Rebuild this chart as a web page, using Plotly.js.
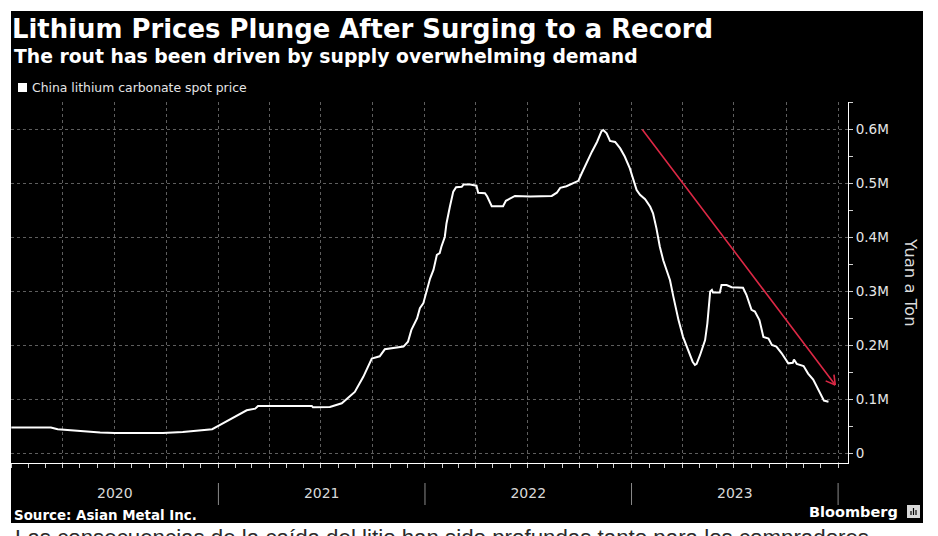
<!DOCTYPE html>
<html>
<head>
<meta charset="utf-8">
<script src="https://cdn.plot.ly/plotly-3.0.1.min.js"></script>
<style>html,body{margin:0;padding:0;background:#fff;}#chart{width:938px;height:536px;}</style>
</head>
<body>
<div id="chart"></div>
<script>
// ---- Data ----
var dates = [
 '2020-01-01','2020-03-11','2020-03-23','2020-04-08','2020-05-05','2020-05-19','2020-06-06','2020-07-02',
 '2020-09-25','2020-10-30','2020-11-29','2020-12-21','2021-01-04','2021-01-21','2021-02-08','2021-02-20',
 '2021-03-07','2021-03-12','2021-06-15','2021-06-17','2021-07-17','2021-08-07','2021-08-30','2021-09-14',
 '2021-09-29','2021-10-13','2021-10-22','2021-11-03','2021-11-24','2021-12-02','2021-12-08','2021-12-18',
 '2021-12-23','2021-12-29','2022-01-04','2022-01-10','2022-01-16','2022-01-22','2022-01-27','2022-01-30',
 '2022-02-05','2022-02-08','2022-02-14','2022-02-20','2022-02-25','2022-03-07','2022-03-10','2022-03-22',
 '2022-04-02','2022-04-05','2022-04-17','2022-04-21','2022-04-29','2022-05-19','2022-05-24','2022-06-03',
 '2022-06-09','2022-07-06','2022-08-13','2022-08-22','2022-08-28','2022-09-08','2022-09-29','2022-10-05',
 '2022-10-14','2022-10-23','2022-11-01','2022-11-09','2022-11-12','2022-11-18','2022-11-24','2022-12-03',
 '2022-12-12','2022-12-20','2022-12-29','2023-01-04','2023-01-10','2023-01-16','2023-01-25','2023-02-03',
 '2023-02-08','2023-02-14','2023-02-20','2023-02-26','2023-03-04','2023-03-10','2023-03-16','2023-03-25',
 '2023-04-02','2023-04-11','2023-04-19','2023-04-23','2023-04-26','2023-05-02','2023-05-11','2023-05-15',
 '2023-05-20','2023-05-23','2023-05-25','2023-06-06','2023-06-09','2023-06-18','2023-06-27','2023-07-17',
 '2023-07-23','2023-08-01','2023-08-07','2023-08-15','2023-08-22','2023-08-31','2023-09-06','2023-09-14',
 '2023-09-23','2023-10-05','2023-10-13','2023-10-15','2023-10-20','2023-11-01','2023-11-09','2023-11-18',
 '2023-11-27','2023-12-03','2023-12-07','2023-12-15'
];
var prices = [
 48000,48000,44800,43500,42000,40000,39000,38000,
 38000,40000,43000,45000,53000,63000,72000,80000,
 83000,88000,88000,85500,86000,93000,114000,142000,
 176000,180000,193000,195000,198000,207000,229000,250000,
 269000,278000,303000,324000,340000,368000,371000,383000,
 401000,426000,457000,485000,493000,494000,498000,498000,
 496000,483000,482000,476000,458000,458000,468000,473000,
 477000,476000,477000,483000,492000,495000,505000,519000,
 540000,559000,577000,597000,599000,593000,579000,577000,
 565000,550000,528000,510000,488000,479000,471000,457000,
 445000,417000,383000,358000,340000,321000,290000,247000,
 216000,192000,170000,164000,166000,182000,210000,241000,
 300000,303000,298000,298000,312000,312000,308000,307000,
 294000,266000,263000,247000,216000,213000,201000,198000,
 186000,167000,168000,174000,166000,162000,148000,137000,
 118000,108000,98000,96000
];
var seriesName = 'China lithium carbonate spot price';
var tickVals = [0, 100000, 200000, 300000, 400000, 500000, 600000];
var tickText = ['0', '0.1M', '0.2M', '0.3M', '0.4M', '0.5M', '0.6M'];
var yearBoundaries = ['2021-01-01', '2022-01-01', '2023-01-01', '2024-01-01'];
var xRange = ['2019-12-31 12:00', '2024-01-18 12:00'];
var yRange = [-17600, 651000];
var trendStart = {x: '2023-01-18', y: 603000};
var trendEnd = {x: '2023-12-27', y: 127000};

// ---- Pixel helpers for paper coordinates ----
var W = 938, H = 536, ML = 11, MR = 90, MT = 102, MB = 73;
var PW = W - ML - MR, PH = H - MT - MB;
function px(x) { return (x - ML) / PW; }
function py(y) { return (H - MB - y) / PH; }

var FONT = 'DejaVu Sans, Verdana, sans-serif';

var traces = [
  {
    type: 'scatter', mode: 'lines', name: seriesName,
    x: dates, y: prices,
    line: {color: '#ffffff', width: 2},
    hoverinfo: 'skip', showlegend: false
  },
  {
    type: 'scatter', mode: 'lines', xaxis: 'x2', yaxis: 'y',
    x: dates, y: prices, opacity: 0,
    line: {color: 'rgba(0,0,0,0)', width: 0},
    hoverinfo: 'skip', showlegend: false
  }
];

var shapes = [
  {type: 'rect', xref: 'paper', yref: 'paper', layer: 'below',
   x0: px(11), x1: px(923), y0: py(523), y1: py(11),
   fillcolor: '#000000', line: {width: 0}},
  {type: 'rect', xref: 'paper', yref: 'paper',
   x0: px(18), x1: px(27), y0: py(92), y1: py(83),
   fillcolor: '#ffffff', line: {width: 0}},
  {type: 'rect', xref: 'paper', yref: 'paper',
   x0: px(907), x1: px(920), y0: py(518), y1: py(505),
   fillcolor: '#d8d8d8', line: {width: 0}},
  {type: 'line', xref: 'paper', yref: 'paper',
   x0: px(911), x1: px(911), y0: py(515), y1: py(511), line: {color: '#000000', width: 1.2}},
  {type: 'line', xref: 'paper', yref: 'paper',
   x0: px(913.5), x1: px(913.5), y0: py(515), y1: py(508), line: {color: '#000000', width: 1.2}},
  {type: 'line', xref: 'paper', yref: 'paper',
   x0: px(916), x1: px(916), y0: py(515), y1: py(510), line: {color: '#000000', width: 1.2}}
];
yearBoundaries.forEach(function (d) {
  shapes.push({type: 'line', xref: 'x', yref: 'paper', x0: d, x1: d,
    y0: py(483), y1: py(505), line: {color: '#8a8a8a', width: 1}});
});

var annotations = [
  {xref: 'paper', yref: 'paper', x: px(12), y: py(56), xanchor: 'left', yanchor: 'middle',
   text: '<b>The rout has been driven by supply overwhelming demand</b>', showarrow: false,
   font: {family: FONT, size: 18.8, color: '#ffffff'}},
  {xref: 'paper', yref: 'paper', x: px(30), y: py(87.5), xanchor: 'left', yanchor: 'middle',
   text: seriesName, showarrow: false,
   font: {family: FONT, size: 12.4, color: '#e6e6e6'}},
  {xref: 'paper', yref: 'paper', x: px(911), y: py(282), xanchor: 'center', yanchor: 'middle',
   text: 'Yuan a Ton', textangle: 90, showarrow: false,
   font: {family: FONT, size: 16.5, color: '#dcdcdc'}},
  {xref: 'paper', yref: 'paper', x: px(12), y: py(515), xanchor: 'left', yanchor: 'middle',
   text: '<b>Source: Asian Metal Inc.</b>', showarrow: false,
   font: {family: FONT, size: 13.4, color: '#ffffff'}},
  {xref: 'paper', yref: 'paper', x: px(807), y: py(511.5), xanchor: 'left', yanchor: 'middle',
   text: '<b>Bloomberg</b>', showarrow: false,
   font: {family: FONT, size: 14.5, color: '#ffffff'}},
  {xref: 'paper', yref: 'paper', x: px(13), y: py(537), xanchor: 'left', yanchor: 'middle',
   text: 'Las consecuencias de la caída del litio han sido profundas tanto para los compradores',
   showarrow: false,
   font: {family: 'Liberation Sans, Arial, sans-serif', size: 22.3, color: '#2a2a2a'}},
  {xref: 'x', yref: 'y', x: trendEnd.x, y: trendEnd.y, axref: 'x', ayref: 'y',
   ax: trendStart.x, ay: trendStart.y, text: '', showarrow: true, arrowhead: 0,
   arrowwidth: 1.6, arrowcolor: '#dc2845', standoff: 0, startstandoff: 0},
  {xref: 'x', yref: 'y', x: trendEnd.x, y: trendEnd.y, axref: 'pixel', ayref: 'pixel',
   ax: -11.1, ay: -4.7, text: '', showarrow: true, arrowhead: 0,
   arrowwidth: 1.6, arrowcolor: '#dc2845', standoff: 0, startstandoff: 0},
  {xref: 'x', yref: 'y', x: trendEnd.x, y: trendEnd.y, axref: 'pixel', ayref: 'pixel',
   ax: -1.5, ay: -11.9, text: '', showarrow: true, arrowhead: 0,
   arrowwidth: 1.6, arrowcolor: '#dc2845', standoff: 0, startstandoff: 0}
];

var layout = {
  width: W, height: H,
  margin: {l: ML, r: MR, t: MT, b: MB, pad: 0},
  paper_bgcolor: '#ffffff',
  plot_bgcolor: '#000000',
  showlegend: false,
  font: {family: FONT, color: '#e6e6e6'},
  title: {
    text: '<b>Lithium Prices Plunge After Surging to a Record</b>',
    font: {family: FONT, size: 25.9, color: '#ffffff'},
    xref: 'container', yref: 'container',
    x: 12 / W, xanchor: 'left',
    y: 1 - 29 / H, yanchor: 'middle'
  },
  xaxis: {
    type: 'date', range: xRange,
    tick0: '2020-01-01', dtick: 'M3',
    showgrid: true, gridcolor: '#5e5e5e', griddash: 'dot', gridwidth: 1,
    ticks: 'outside', ticklen: 4, tickcolor: '#cfcfcf', tickwidth: 1,
    showticklabels: false,
    showline: true, linecolor: '#ffffff', linewidth: 1,
    zeroline: false, fixedrange: true,
    minor: {tick0: '2020-01-01', dtick: 'M1', ticks: 'outside', ticklen: 4,
            tickcolor: '#cfcfcf', tickwidth: 1, showgrid: false}
  },
  xaxis2: {
    type: 'date', range: xRange, overlaying: 'x', anchor: 'y', side: 'bottom',
    tick0: '2020-01-01', dtick: 'M12', tickformat: '%Y', ticklabelmode: 'period',
    ticks: '', showgrid: false, showline: false, zeroline: false,
    ticklabelstandoff: 20,
    tickfont: {family: FONT, size: 14, color: '#d9d9d9'},
    fixedrange: true
  },
  yaxis: {
    side: 'right', range: yRange,
    tickmode: 'array', tickvals: tickVals, ticktext: tickText,
    showgrid: true, gridcolor: '#5e5e5e', griddash: 'dot', gridwidth: 1,
    ticks: 'outside', ticklen: 4, tickcolor: '#cfcfcf', tickwidth: 1,
    tickfont: {family: FONT, size: 13.5, color: '#e6e6e6'},
    showline: true, linecolor: '#ffffff', linewidth: 1,
    zeroline: false, fixedrange: true,
    minor: {tickmode: 'linear', tick0: 0, dtick: 50000, ticks: 'outside', ticklen: 4,
            tickcolor: '#cfcfcf', tickwidth: 1, showgrid: false}
  },
  shapes: shapes,
  annotations: annotations
};

Plotly.newPlot('chart', traces, layout, {displayModeBar: false, staticPlot: true});
</script>
</body>
</html>
